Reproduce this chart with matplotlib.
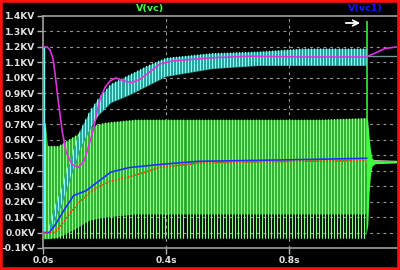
import numpy as np
import matplotlib
matplotlib.use("Agg")
import matplotlib.pyplot as plt
from matplotlib.patches import Rectangle

# ---- data (time in s, voltage in KV) ----
y_ticks = [-0.1, 0.0, 0.1, 0.2, 0.3, 0.4, 0.5, 0.6, 0.7, 0.8, 0.9, 1.0, 1.1, 1.2, 1.3, 1.4]
y_labels = ["-0.1KV", "0.0KV", "0.1KV", "0.2KV", "0.3KV", "0.4KV", "0.5KV", "0.6KV",
            "0.7KV", "0.8KV", "0.9KV", "1.0KV", "1.1KV", "1.2KV", "1.3KV", "1.4KV"]
x_ticks = [0.0, 0.4, 0.8]
x_labels = ["0.0s", "0.4s", "0.8s"]

# V(vc): fast switching ripple band
vc_t = [0.0, 0.004, 0.008, 0.015, 0.05, 0.1, 0.15, 0.2, 0.3, 0.6, 0.9, 1.05]
vc_hi = [0.0, 0.72, 0.7, 0.56, 0.56, 0.62, 0.68, 0.71, 0.73, 0.73, 0.73, 0.74]
vc_lo = [-0.04, -0.04, -0.04, -0.04, -0.04, -0.04, -0.04, -0.04, -0.04, -0.04, -0.04, -0.04]
vc_fill_lo = [-0.04, -0.04, -0.04, -0.04, -0.03, 0.02, 0.08, 0.1, 0.12, 0.12, 0.12, 0.12]
vc_period = 0.0098
vc_spike_t = 1.054
vc_spike_v = 1.37
vc_tail_t = [1.05, 1.056, 1.06, 1.065, 1.07, 1.08, 1.151]
vc_tail_hi = [0.75, 0.72, 0.62, 0.53, 0.48, 0.465, 0.46]
vc_tail_lo = [-0.02, 0.05, 0.25, 0.38, 0.43, 0.445, 0.45]

# cyan band
cy_t = [0.02, 0.04, 0.06, 0.08, 0.1, 0.12, 0.15, 0.18, 0.22, 0.28, 0.34, 0.4, 0.55, 0.7, 0.85, 1.052]
cy_lo = [0.0, 0.1, 0.18, 0.3, 0.42, 0.54, 0.66, 0.76, 0.84, 0.89, 0.95, 1.01, 1.06, 1.08, 1.08, 1.08]
cy_hi = [0.04, 0.18, 0.28, 0.42, 0.54, 0.66, 0.78, 0.87, 0.96, 1.02, 1.08, 1.13, 1.16, 1.17, 1.19, 1.19]
cy_tail_t = [1.052, 1.151]
cy_tail_v = [1.14, 1.14]

# magenta trace
mg_t = [0.0, 0.013, 0.023, 0.033, 0.039, 0.049, 0.062, 0.075, 0.094, 0.114, 0.133, 0.146,
        0.163, 0.185, 0.202, 0.218, 0.237, 0.263, 0.289, 0.315, 0.348, 0.38, 0.423, 0.553,
        0.673, 0.836, 1.05, 1.08, 1.112, 1.151]
mg_v = [1.2, 1.2, 1.18, 1.12, 1.03, 0.86, 0.66, 0.52, 0.44, 0.42, 0.46, 0.54,
        0.66, 0.86, 0.94, 0.98, 1.0, 0.98, 0.97, 0.99, 1.04, 1.09, 1.11, 1.13,
        1.14, 1.135, 1.135, 1.16, 1.19, 1.2]

# V(vc1) blue and the red dotted trace
bl_t = [0.0, 0.02, 0.04, 0.07, 0.1, 0.14, 0.18, 0.22, 0.28, 0.38, 0.5, 0.8, 1.052]
bl_v = [0.0, 0.0, 0.05, 0.15, 0.24, 0.27, 0.33, 0.39, 0.42, 0.44, 0.46, 0.47, 0.48]
rd_t = [0.0, 0.04, 0.06, 0.09, 0.12, 0.153, 0.185, 0.218, 0.28, 0.315, 0.38, 0.51, 0.8, 1.052]
rd_v = [0.0, 0.0, 0.05, 0.13, 0.2, 0.26, 0.3, 0.33, 0.36, 0.38, 0.42, 0.45, 0.46, 0.465]


def main():
    fig = plt.figure(figsize=(4, 2.7), dpi=100, facecolor="black")
    ax = fig.add_axes([0.1075, 0.0815, 0.885, 0.8593])
    ax.set_facecolor("black")

    # V(vc) ripple: darker band plus switching lines clipped to the envelope
    ax.fill_between(vc_t, vc_fill_lo, vc_hi, color="#26aa26", lw=0, zorder=2)
    env = ax.fill_between(vc_t, vc_lo, vc_hi, color="none", lw=0, zorder=2)
    spikes = np.arange(0.006, 1.05, vc_period)
    vl = ax.vlines(spikes, -0.04, 0.76, color="#8cff8c", lw=0.9, zorder=2.5)
    vl.set_clip_path(env.get_paths()[0], transform=ax.transData)
    ax.fill_between(vc_tail_t, vc_tail_lo, vc_tail_hi, color="#40ff40", lw=0, zorder=2.5)
    ax.plot(vc_tail_t[-2:], vc_tail_hi[-2:], color="#c8c8c8", lw=0.8, zorder=2.6)
    ax.vlines([vc_spike_t], 0.45, vc_spike_v, color="#40ff40", lw=1.1, zorder=2.6)

    # cyan band
    ax.vlines([0.002], 0.0, 1.2, color="#60ffff", lw=1.0, zorder=3)
    band = ax.fill_between(cy_t, cy_lo, cy_hi, color="#22a09a", lw=0, zorder=3)
    cl = ax.vlines(np.arange(0.02, 1.052, vc_period), 0.0, 1.2,
                   color="#90fff0", lw=0.8, zorder=3.2)
    cl.set_clip_path(band.get_paths()[0], transform=ax.transData)
    ax.plot(cy_tail_t, cy_tail_v, color="#709898", lw=1.0, zorder=3)

    ax.plot(mg_t, mg_v, color="#e030e0", lw=1.2, zorder=4)
    ax.plot(bl_t, bl_v, color="#2030ff", lw=1.2, zorder=5)
    ax.plot(rd_t, rd_v, color="#ff3000", lw=1.2, ls=(0, (1, 1)), zorder=6)

    ax.set_xlim(0, 1.151)
    ax.set_ylim(-0.1, 1.4)
    ax.set_yticks(y_ticks)
    ax.set_yticklabels(y_labels)
    ax.set_xticks(x_ticks)
    ax.set_xticklabels(x_labels)
    ax.tick_params(colors="#b0b0b0", labelcolor="#e0e0e0", length=4.5, width=1,
                   labelsize=6.6, pad=1)
    for lab in ax.get_xticklabels() + ax.get_yticklabels():
        lab.set_fontweight("bold")

    for g in y_ticks[1:-1]:
        ax.axhline(g, color="#9a9a9a", lw=0.8, ls=(0, (2.5, 3.5)), zorder=1)
    for g in x_ticks[1:]:
        ax.axvline(g, color="#9a9a9a", lw=0.8, ls=(0, (2.5, 3.5)), zorder=1)

    for side in ["left", "bottom", "top"]:
        ax.spines[side].set_color("#a0a0a0")
        ax.spines[side].set_linewidth(1.2)
    ax.spines["right"].set_visible(False)

    fig.text(150 / 400, 1 - 9 / 270, "V(vc)", color="#40ff40", fontsize=6.8,
             fontweight="bold", ha="center", va="center")
    fig.text(365 / 400, 1 - 9 / 270, "V(vc1)", color="#1818ff", fontsize=6.8,
             fontweight="bold", ha="center", va="center")
    ax.annotate("", xy=(363 / 400, 1 - 23 / 270), xytext=(343 / 400, 1 - 23 / 270),
                xycoords="figure fraction",
                arrowprops=dict(arrowstyle="->", color="white", lw=1.3))

    fig.patches.append(Rectangle((0, 0), 1, 1, transform=fig.transFigure,
                                 fill=False, edgecolor="#ff1010", lw=4))

    fig.savefig("out.png", dpi=100, facecolor="black")


if __name__ == "__main__":
    main()
